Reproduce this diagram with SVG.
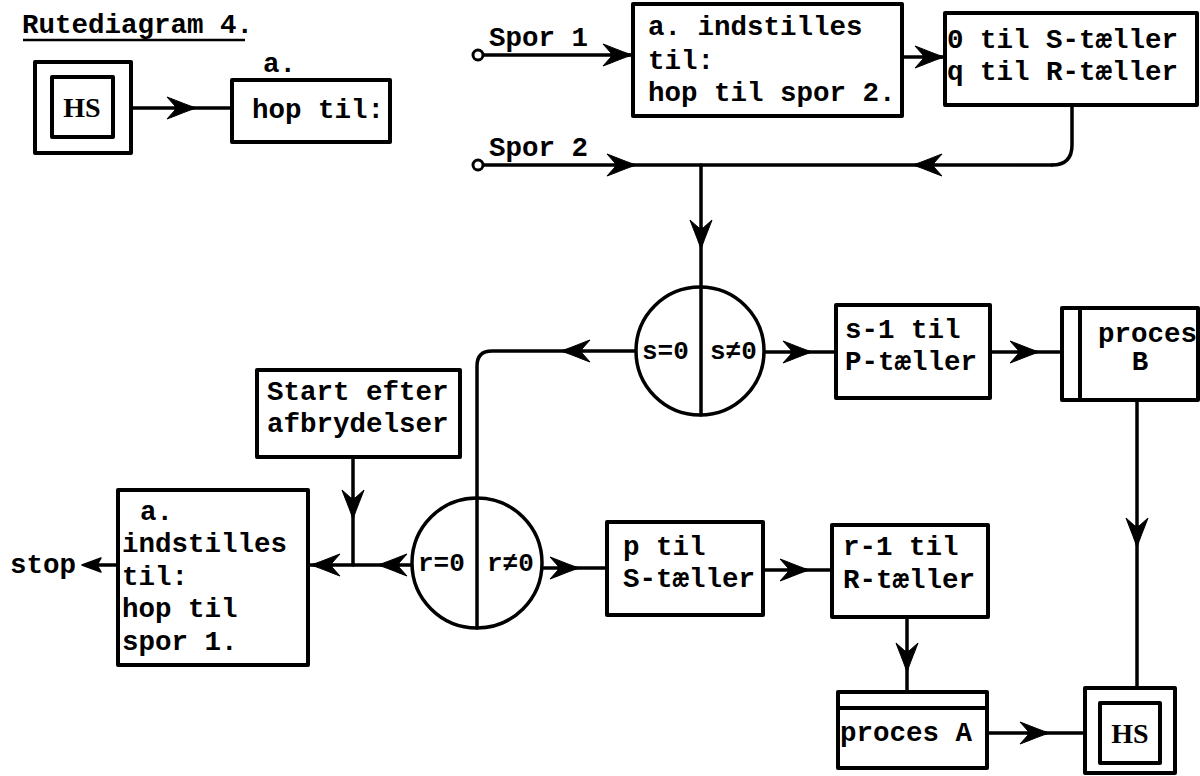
<svg xmlns="http://www.w3.org/2000/svg" xmlns:xlink="http://www.w3.org/1999/xlink" width="1200" height="776" viewBox="0 0 1200 776">
<style>
.bx{fill:#fff;stroke:#000;stroke-width:4;stroke-linejoin:round}
.ln{fill:none;stroke:#000;stroke-width:3.5;stroke-linecap:round;stroke-linejoin:round}
.t{font-family:"Liberation Mono","DejaVu Sans Mono",monospace;font-weight:bold;font-size:27.5px;fill:#000}
.c{font-family:"Liberation Mono","DejaVu Sans Mono",monospace;font-weight:bold;font-size:26px;fill:#000}
.hs{font-family:"Liberation Serif","DejaVu Serif",serif;font-weight:bold;font-size:28px;fill:#000}
.ah{fill:#000;stroke:#000;stroke-width:1}
</style>
<defs>
<path id="ah" d="M0,0 C-8,-2 -19,-7 -30,-11 L-22,-2 L-22,2 L-30,11 C-19,7 -8,2 0,0 Z"/>
</defs>
<rect width="1200" height="776" fill="#fff"/>

<g id="title">
<text class="t" x="22" y="33">Rutediagram 4.</text>
<line x1="23" y1="40" x2="245" y2="40" stroke="#000" stroke-width="2.5"/>
</g>

<g id="connectors">
<line class="ln" x1="131" y1="108" x2="232" y2="108"/>
<line class="ln" x1="483" y1="55" x2="633" y2="55"/>
<line class="ln" x1="902" y1="57" x2="945" y2="57"/>
<line class="ln" x1="483" y1="165" x2="1052" y2="165"/>
<path class="ln" d="M1072,105 L1072,145 Q1072,165 1052,165"/>
<line class="ln" x1="701" y1="165" x2="701" y2="287"/>
<path class="ln" d="M636,351 L492,351 Q477,351 477,366 L477,499"/>
<line class="ln" x1="764" y1="352" x2="836" y2="352"/>
<line class="ln" x1="990" y1="352" x2="1062" y2="352"/>
<line class="ln" x1="1137" y1="400" x2="1137" y2="688"/>
<line class="ln" x1="353" y1="457" x2="353" y2="565"/>
<line class="ln" x1="412" y1="565" x2="308" y2="565"/>
<line class="ln" x1="118" y1="565" x2="90" y2="565"/>
<line class="ln" x1="542" y1="568" x2="607" y2="568"/>
<line class="ln" x1="763" y1="570" x2="832" y2="570"/>
<line class="ln" x1="907" y1="617" x2="907" y2="692"/>
<line class="ln" x1="987" y1="733" x2="1085" y2="733"/>
<use href="#ah" class="ah" transform="translate(197,108)"/>
<use href="#ah" class="ah" transform="translate(633,55)"/>
<use href="#ah" class="ah" transform="translate(945,57)"/>
<use href="#ah" class="ah" transform="translate(637,165)"/>
<use href="#ah" class="ah" transform="translate(912,165) rotate(180)"/>
<use href="#ah" class="ah" transform="translate(701,250) rotate(90)"/>
<use href="#ah" class="ah" transform="translate(560,351) rotate(180)"/>
<use href="#ah" class="ah" transform="translate(813,352)"/>
<use href="#ah" class="ah" transform="translate(1040,352)"/>
<use href="#ah" class="ah" transform="translate(1137,548) rotate(90)"/>
<use href="#ah" class="ah" transform="translate(353,520) rotate(90)"/>
<use href="#ah" class="ah" transform="translate(377,565) rotate(180)"/>
<use href="#ah" class="ah" transform="translate(310,565) rotate(180)"/>
<path d="M82,565 L101,558 L97,565 L101,572 Z" fill="#000" stroke="#000" stroke-width="1.5" stroke-linejoin="round"/>
<use href="#ah" class="ah" transform="translate(580,568)"/>
<use href="#ah" class="ah" transform="translate(810,570)"/>
<use href="#ah" class="ah" transform="translate(907,673) rotate(90)"/>
<use href="#ah" class="ah" transform="translate(1050,733)"/>
</g>

<g id="hs-top">
<rect class="bx" x="35" y="62" width="96" height="91"/>
<rect class="bx" x="52" y="77" width="61" height="60"/>
<text class="hs" x="82" y="117" text-anchor="middle">HS</text>
</g>

<g id="hop-til">
<text class="t" x="263" y="72">a.</text>
<rect class="bx" x="232" y="80" width="158" height="62"/>
<text class="t" x="252" y="118">hop til:</text>
</g>

<g id="spor1">
<circle cx="478" cy="55" r="5" fill="#fff" stroke="#000" stroke-width="3"/>
<text class="t" x="489" y="46">Spor 1</text>
</g>

<g id="spor2">
<circle cx="478" cy="165" r="5" fill="#fff" stroke="#000" stroke-width="3"/>
<text class="t" x="489" y="156">Spor 2</text>
</g>

<g id="box-a-spor2">
<rect class="bx" x="633" y="4" width="269" height="112"/>
<text class="t" x="648" y="35">a. indstilles</text>
<text class="t" x="648" y="69">til:</text>
<text class="t" x="648" y="101">hop til spor 2.</text>
</g>

<g id="box-counters">
<rect class="bx" x="945" y="13" width="252" height="92"/>
<text class="t" x="947" y="48">0 til S-tæller</text>
<text class="t" x="947" y="80">q til R-tæller</text>
</g>

<g id="test-s">
<circle cx="700" cy="351" r="64" fill="#fff" stroke="#000" stroke-width="3.5"/>
<line class="ln" x1="701" y1="287" x2="701" y2="415"/>
<text class="c" x="642" y="359">s=0</text>
<text class="c" x="710" y="359">s≠0</text>
</g>

<g id="box-s1">
<rect class="bx" x="836" y="305" width="154" height="93"/>
<text class="t" x="845" y="338">s-1 til</text>
<text class="t" x="845" y="370">P-tæller</text>
</g>

<g id="proces-b">
<rect class="bx" x="1062" y="308" width="136" height="92"/>
<line x1="1080" y1="308" x2="1080" y2="400" stroke="#000" stroke-width="4"/>
<text class="t" x="1098" y="342">proces</text>
<text class="t" x="1140" y="370" text-anchor="middle">B</text>
</g>

<g id="start-efter">
<rect class="bx" x="257" y="370" width="203" height="87"/>
<text class="t" x="267" y="400">Start efter</text>
<text class="t" x="267" y="432">afbrydelser</text>
</g>

<g id="box-a-spor1">
<rect class="bx" x="118" y="490" width="190" height="175"/>
<text class="t" x="140" y="520">a.</text>
<text class="t" x="122" y="552">indstilles</text>
<text class="t" x="122" y="585">til:</text>
<text class="t" x="122" y="617">hop til</text>
<text class="t" x="122" y="650">spor 1.</text>
</g>

<g id="stop">
<text class="t" x="10" y="573">stop</text>
</g>

<g id="test-r">
<circle cx="477" cy="563" r="65" fill="#fff" stroke="#000" stroke-width="3.5"/>
<line class="ln" x1="477" y1="499" x2="477" y2="628"/>
<text class="c" x="418" y="571">r=0</text>
<text class="c" x="487" y="571">r≠0</text>
</g>

<g id="box-p">
<rect class="bx" x="607" y="522" width="156" height="93"/>
<text class="t" x="623" y="555">p til</text>
<text class="t" x="623" y="587">S-tæller</text>
</g>

<g id="box-r1">
<rect class="bx" x="832" y="525" width="156" height="92"/>
<text class="t" x="843" y="555">r-1 til</text>
<text class="t" x="843" y="588">R-tæller</text>
</g>

<g id="proces-a">
<rect class="bx" x="838" y="692" width="149" height="76"/>
<line x1="838" y1="708" x2="987" y2="708" stroke="#000" stroke-width="4"/>
<text class="t" x="840" y="741">proces A</text>
</g>

<g id="hs-bottom">
<rect class="bx" x="1085" y="688" width="90" height="85"/>
<rect class="bx" x="1100" y="703" width="60" height="60"/>
<text class="hs" x="1130" y="743" text-anchor="middle">HS</text>
</g>
</svg>
